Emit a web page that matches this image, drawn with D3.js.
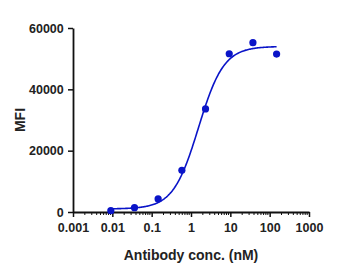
<!DOCTYPE html>
<html>
<head>
<meta charset="utf-8">
<script src="https://cdn.jsdelivr.net/npm/d3@7"></script>
<style>
  body { margin: 0; background: #fff; }
  svg text { font-family: "Liberation Sans", Arial, sans-serif; font-weight: bold; fill: #222; }
</style>
</head>
<body>
<div id="chart"></div>
<script>
// measured points (4-fold dilution series)
const conc = [0.00916, 0.0366, 0.146, 0.586, 2.34, 9.375, 37.5, 150];
const mfi = [420, 1400, 4250, 13600, 33600, 51600, 55200, 51500];

// 4PL fit parameters of the drawn curve
const fitBottom = 1000, fitTop = 54000, fitEC50 = 1.55, fitHill = 1.35;

const xTicks = [0.001, 0.01, 0.1, 1, 10, 100, 1000];
const xTickLabels = ["0.001", "0.01", "0.1", "1", "10", "100", "1000"];
const yTicks = [0, 20000, 40000, 60000];

const width = 350, height = 276;
const margin = {left: 73, right: 41, top: 28, bottom: 64};

const svg = d3.select("#chart").append("svg")
  .attr("width", width)
  .attr("height", height);

const x = d3.scaleLog().domain([0.001, 1000]).range([margin.left, width - margin.right]);
const y = d3.scaleLinear().domain([0, 60000]).range([height - margin.bottom, margin.top]);

// minor ticks on the log axis
const minor = [];
for (let e = -3; e < 3; e++) {
  for (let m = 2; m <= 9; m++) minor.push(m * Math.pow(10, e));
}

const xAxis = svg.append("g")
  .attr("transform", `translate(0,${y(0)})`)
  .call(d3.axisBottom(x).tickValues(xTicks).tickFormat((d, i) => xTickLabels[i]).tickSize(5).tickSizeOuter(0));
xAxis.selectAll("text").attr("font-size", 12.5).attr("dy", "0.95em");

svg.append("g")
  .attr("transform", `translate(0,${y(0)})`)
  .selectAll("line")
  .data(minor)
  .enter().append("line")
    .attr("x1", d => x(d)).attr("x2", d => x(d))
    .attr("y1", 0).attr("y2", 3)
    .attr("stroke", "#111").attr("stroke-width", 1);

const yAxis = svg.append("g")
  .attr("transform", `translate(${x(0.001)},0)`)
  .call(d3.axisLeft(y).tickValues(yTicks).tickFormat(d3.format("d")).tickSize(5).tickSizeOuter(0));
yAxis.selectAll("text").attr("font-size", 12.5).attr("dx", "-0.1em");

svg.selectAll(".domain").attr("stroke", "#111").attr("stroke-width", 1.8);
svg.selectAll(".tick line").attr("stroke", "#111").attr("stroke-width", 1.5);

// fitted curve
const curveX = d3.range(0, 201).map(i => {
  const lo = Math.log10(conc[0]), hi = Math.log10(conc[conc.length - 1]);
  return Math.pow(10, lo + (hi - lo) * i / 200);
});
const fit = c => fitBottom + (fitTop - fitBottom) / (1 + Math.pow(fitEC50 / c, fitHill));

svg.append("path")
  .datum(curveX)
  .attr("fill", "none")
  .attr("stroke", "#0a14c8")
  .attr("stroke-width", 1.6)
  .attr("d", d3.line().x(d => x(d)).y(d => y(fit(d))));

// data points
svg.selectAll(".pt")
  .data(conc)
  .enter().append("circle")
    .attr("class", "pt")
    .attr("cx", d => x(d))
    .attr("cy", (d, i) => y(mfi[i]))
    .attr("r", 3.6)
    .attr("fill", "#0a14c8");

// axis titles
svg.append("text")
  .attr("x", (x(0.001) + x(1000)) / 2)
  .attr("y", 260)
  .attr("text-anchor", "middle")
  .attr("font-size", 14)
  .text("Antibody conc. (nM)");

svg.append("text")
  .attr("transform", `translate(25,${(y(0) + y(60000)) / 2}) rotate(-90)`)
  .attr("text-anchor", "middle")
  .attr("font-size", 14)
  .text("MFI");
</script>
</body>
</html>
